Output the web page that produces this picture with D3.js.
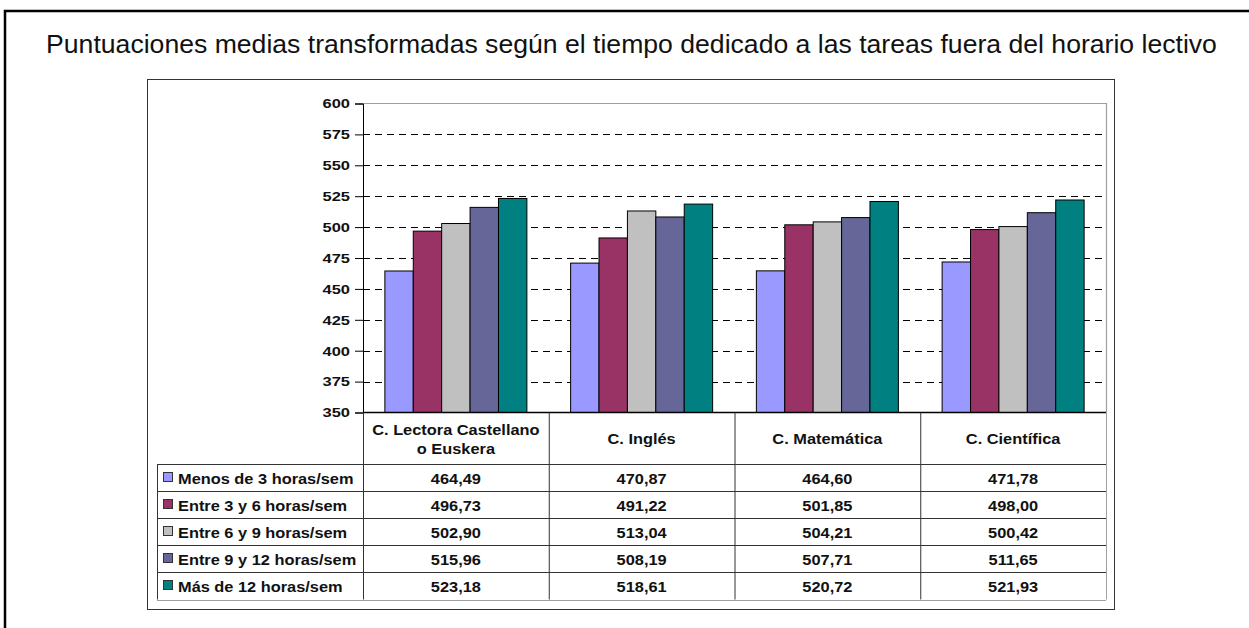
<!DOCTYPE html>
<html>
<head>
<meta charset="utf-8">
<script src="https://cdn.jsdelivr.net/npm/d3@7"></script>
<style>
  body { margin: 0; background: #fff; }
  svg { display: block; font-family: "Liberation Sans", Arial, sans-serif; }
</style>
</head>
<body>
<svg id="chart" width="1249" height="628"></svg>
<script>
const title = "Puntuaciones medias transformadas según el tiempo dedicado a las tareas fuera del horario lectivo";
const categories = [["C. Lectora Castellano", "o Euskera"], ["C. Inglés"], ["C. Matemática"], ["C. Científica"]];
const seriesNames = ["Menos de 3 horas/sem", "Entre 3 y 6 horas/sem", "Entre 6 y 9 horas/sem", "Entre 9 y 12 horas/sem", "Más de 12 horas/sem"];
const seriesColors = ["#9999ff", "#993366", "#c0c0c0", "#666699", "#008080"];
const menos3 = [464.49, 470.87, 464.60, 471.78];
const entre3y6 = [496.73, 491.22, 501.85, 498.00];
const entre6y9 = [502.90, 513.04, 504.21, 500.42];
const entre9y12 = [515.96, 508.19, 507.71, 511.65];
const mas12 = [523.18, 518.61, 520.72, 521.93];
const seriesValues = [menos3, entre3y6, entre6y9, entre9y12, mas12];
const yTicks = [350, 375, 400, 425, 450, 475, 500, 525, 550, 575, 600];

const svg = d3.select("#chart");
const plot = { left: 363, right: 1106, top: 103.5, bottom: 412.5 };
const tableLeft = 157;
const headerBottom = 464;
const rowH = 27.1;
const sx = 1.17; // the source picture is stretched sideways

// stretched bold label helper
function label(g, x, y, txt, anchor, size) {
  return g.append("text")
    .attr("transform", `translate(${x},${y}) scale(${sx},1)`)
    .attr("text-anchor", anchor).attr("font-size", size)
    .attr("font-weight", "bold").attr("fill", "#111").text(txt);
}

// outer frames
svg.append("rect").attr("x", 5).attr("y", 11).attr("width", 1300).attr("height", 700)
  .attr("fill", "none").attr("stroke", "#000").attr("stroke-width", 2.5);
svg.append("rect").attr("x", 147.5).attr("y", 79.5).attr("width", 967).attr("height", 530)
  .attr("fill", "none").attr("stroke", "#333").attr("stroke-width", 1);

svg.append("text").attr("x", 631.5).attr("y", 53).attr("text-anchor", "middle")
  .attr("font-size", 26.6).attr("fill", "#111").text(title);

const y = d3.scaleLinear().domain([350, 600]).range([plot.bottom, plot.top]);
const x0 = d3.scaleBand().domain(d3.range(categories.length)).range([plot.left, plot.right]);
const x1 = d3.scaleBand().domain(d3.range(seriesNames.length)).range([0, x0.bandwidth()]).paddingOuter(0.77).paddingInner(0);

// grid lines
svg.append("g").selectAll("line").data(yTicks.filter(t => t > 350 && t < 600)).join("line")
  .attr("x1", plot.left).attr("x2", plot.right)
  .attr("y1", d => Math.round(y(d)) + 0.5).attr("y2", d => Math.round(y(d)) + 0.5)
  .attr("stroke", "#000").attr("stroke-dasharray", "7,5");

// plot border (top/right gray)
svg.append("path")
  .attr("d", `M${plot.left},${plot.top}H${plot.right + 0.5}V${plot.bottom}`)
  .attr("fill", "none").attr("stroke", "#a0a0a0").attr("stroke-width", 1.2);

// bars
const groups = svg.append("g").selectAll("g").data(categories).join("g")
  .attr("transform", (d, i) => `translate(${x0(i)},0)`);
groups.selectAll("rect").data((d, i) => seriesValues.map((vals, s) => ({ s, v: vals[i] }))).join("rect")
  .attr("x", d => x1(d.s)).attr("width", x1.bandwidth())
  .attr("y", d => y(d.v)).attr("height", d => y(350) - y(d.v))
  .attr("fill", d => seriesColors[d.s]).attr("stroke", "#000").attr("stroke-width", 1);

// y axis
const yAxis = d3.axisLeft(y).tickValues(yTicks).tickSize(8).tickPadding(5).tickFormat(d3.format("d"));
const ax = svg.append("g").attr("transform", `translate(${plot.left},0)`).call(yAxis);
ax.select(".domain").attr("stroke", "#000");
ax.selectAll(".tick line").attr("stroke", "#000");
ax.selectAll(".tick text")
  .attr("x", null)
  .attr("transform", `translate(-13,0) scale(1.22,1)`)
  .attr("font-size", 13.5).attr("font-weight", "bold").attr("fill", "#111")
  .attr("font-family", "Liberation Sans, Arial, sans-serif");

// x axis baseline
svg.append("line").attr("x1", plot.left).attr("x2", plot.right).attr("y1", plot.bottom).attr("y2", plot.bottom)
  .attr("stroke", "#000").attr("stroke-width", 1.5);

// data table
const tableBottom = headerBottom + rowH * seriesNames.length;
const tbl = svg.append("g");
tbl.selectAll("line.col").data(d3.range(categories.length + 1)).join("line")
  .attr("x1", i => i === categories.length ? plot.right + 0.5 : x0(i) + 0.5)
  .attr("x2", i => i === categories.length ? plot.right + 0.5 : x0(i) + 0.5)
  .attr("y1", plot.bottom).attr("y2", tableBottom)
  .attr("stroke", (d, i) => i === categories.length ? "#a0a0a0" : "#333").attr("stroke-width", 1);
tbl.append("line").attr("x1", tableLeft + 0.5).attr("x2", tableLeft + 0.5)
  .attr("y1", headerBottom).attr("y2", tableBottom).attr("stroke", "#333");
tbl.selectAll("line.row").data(d3.range(seriesNames.length + 1)).join("line")
  .attr("x1", tableLeft).attr("x2", plot.right)
  .attr("y1", i => Math.round(headerBottom + i * rowH) + 0.5)
  .attr("y2", i => Math.round(headerBottom + i * rowH) + 0.5)
  .attr("stroke", (d, i) => i === seriesNames.length ? "#a0a0a0" : "#333").attr("stroke-width", 1);

// category headers
categories.forEach((lines, i) => {
  const cx = x0(i) + x0.bandwidth() / 2;
  const cy = (plot.bottom + headerBottom) / 2;
  lines.forEach((ln, k) => {
    label(tbl, cx, cy + 6 + (k - (lines.length - 1) / 2) * 19.5, ln, "middle", 14);
  });
});

// rows
seriesNames.forEach((name, s) => {
  const ry = headerBottom + s * rowH + rowH / 2;
  tbl.append("rect").attr("x", 163.5).attr("y", Math.round(ry) - 5.5).attr("width", 9).attr("height", 9)
    .attr("fill", seriesColors[s]).attr("stroke", "#333").attr("stroke-width", 1);
  label(tbl, 178, ry + 6, name, "start", 14);
  seriesValues[s].forEach((v, i) => {
    label(tbl, x0(i) + x0.bandwidth() / 2, ry + 6, d3.format(".2f")(v).replace(".", ","), "middle", 14);
  });
});
</script>
</body>
</html>
